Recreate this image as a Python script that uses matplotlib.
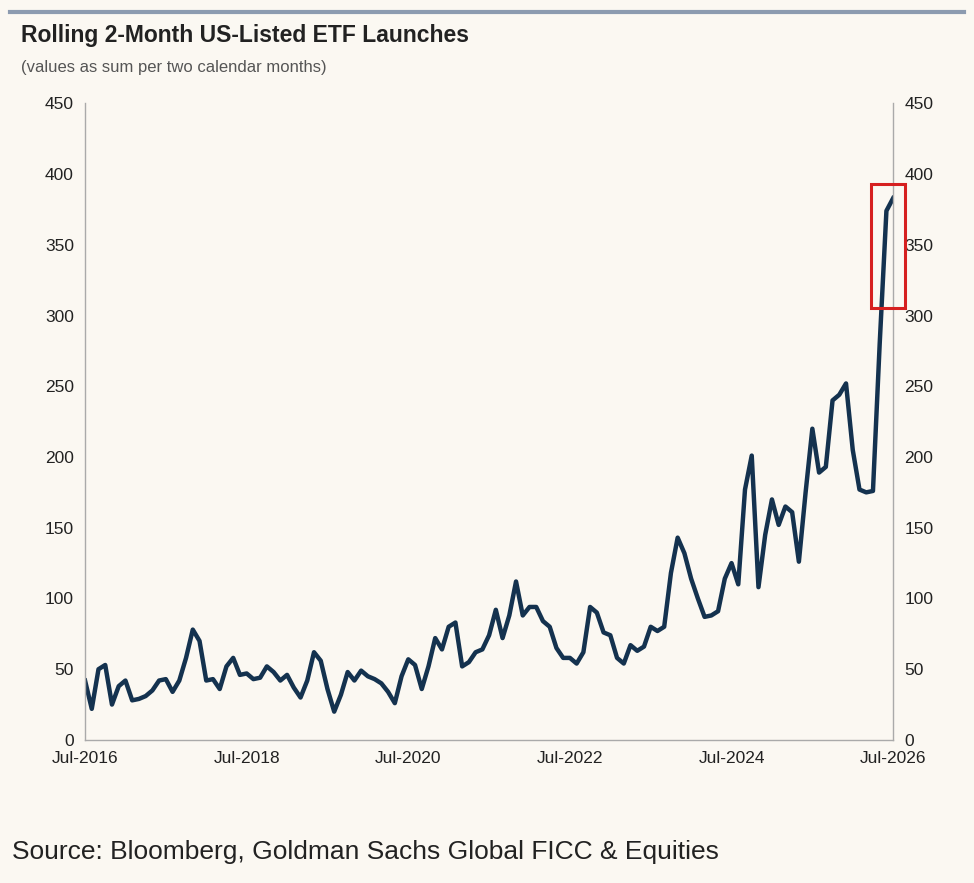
import matplotlib
matplotlib.use("Agg")
import matplotlib.pyplot as plt
from matplotlib.patches import Rectangle
import numpy as np

plt.rcParams['font.family'] = ['Liberation Sans', 'DejaVu Sans']

values = [42, 22, 50, 53, 25, 38,
          42, 28, 29, 31, 35, 42, 43, 34, 42, 58, 78, 70,
          42, 43, 36, 52, 58, 46, 47, 43, 44, 52, 48, 42,
          46, 37, 30, 42, 62, 56, 36, 20, 32, 48, 42, 49,
          45, 43, 40, 34, 26, 45, 57, 53, 36, 52, 72, 64,
          80, 83, 52, 55, 62, 64, 74, 92, 72, 88, 112, 88,
          94, 94, 84, 80, 65, 58, 58, 54, 62, 94, 90, 76,
          74, 58, 54, 67, 63, 66, 80, 77, 80, 118, 143, 132,
          114, 100, 87, 88, 91, 114, 125, 110, 177, 201, 108, 145,
          170, 152, 165, 161, 126, 175, 220, 189, 193, 240, 244, 252,
          205, 177, 175, 176, 280, 374, 383]
tick_labels = ["Jul-2016", "Jul-2018", "Jul-2020", "Jul-2022", "Jul-2024", "Jul-2026"]
yticks = [0, 50, 100, 150, 200, 250, 300, 350, 400, 450]

bg = "#FBF8F2"
fig = plt.figure(figsize=(9.74, 8.83), dpi=100, facecolor=bg)
ax = fig.add_axes([0.0873, 0.162, 0.8297, 0.721], facecolor=bg)
x = np.arange(len(values))
ax.plot(x, values, color="#14324F", lw=3.2, solid_joinstyle="round")
ax.set_xlim(0, 120)
ax.set_ylim(0, 450)
ax.set_xticks(np.arange(0, 121, 24))
ax.set_xticklabels(tick_labels)
ax.set_yticks(yticks)
ax.tick_params(axis="both", length=0, labelsize=12.5, colors="#222222", pad=8)
ax.tick_params(axis="y", labelright=True, right=False)
ax.spines["top"].set_visible(False)
for s in ["left", "right", "bottom"]:
    ax.spines[s].set_color("#AAAAAA")
    ax.spines[s].set_linewidth(1.0)

ax.add_patch(Rectangle((116.7, 305), 5.1, 88, fill=False, edgecolor="#D62020",
                       lw=2.2, clip_on=False, zorder=5))

fig.add_artist(plt.Line2D([0.01, 0.99], [0.986, 0.986], color="#8C9BB0", lw=3,
                          transform=fig.transFigure))
fig.text(0.022, 0.96, "Rolling 2-Month US-Listed ETF Launches", fontsize=16.5,
         fontweight="bold", color="#222222", va="center")
fig.text(0.022, 0.924, "(values as sum per two calendar months)", fontsize=12,
         color="#555555", va="center")
fig.text(0.012, 0.035, "Source: Bloomberg, Goldman Sachs Global FICC & Equities",
         fontsize=19, color="#222222", va="center")
fig.savefig("out.png", dpi=100, facecolor=bg)
